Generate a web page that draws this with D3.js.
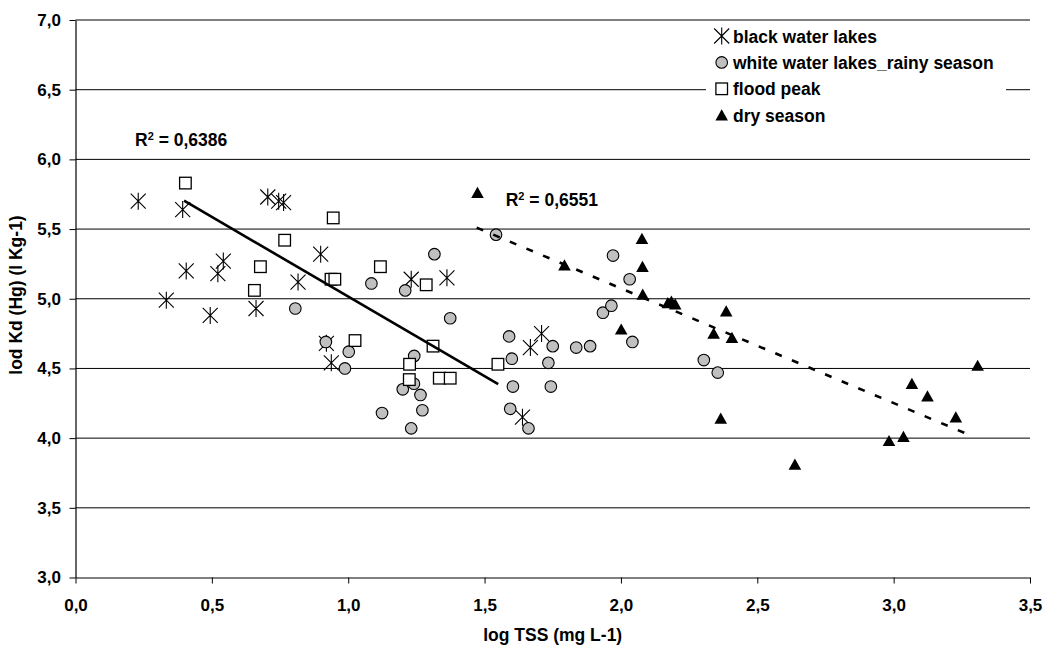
<!DOCTYPE html>
<html><head><meta charset="utf-8">
<script src="https://cdn.jsdelivr.net/npm/d3@7"></script>
<style>
body{margin:0;background:#fff}
svg text{font-family:"Liberation Sans",Arial,sans-serif;font-weight:bold;fill:#000}
</style>
</head><body>
<svg id="c" width="1044" height="646"></svg>
<script>
// ---- data (log TSS, log Kd) ----
const seriesNames = ["black water lakes","white water lakes_rainy season","flood peak","dry season"];
const blackWater = [[0.230,5.70],[0.393,5.64],[0.406,5.20],[0.333,4.99],[0.494,4.88],[0.522,5.18],[0.542,5.27],
  [0.662,4.93],[0.705,5.73],[0.745,5.70],[0.763,5.69],[0.816,5.12],[0.899,5.32],[0.920,4.68],[0.938,4.54],
  [1.231,5.14],[1.362,5.15],[1.709,4.75],[1.668,4.65],[1.639,4.15]];
const whiteWaterRainy = [[0.806,4.93],[0.918,4.69],[1.002,4.62],[0.988,4.50],[1.085,5.11],[1.209,5.06],[1.316,5.32],
  [1.374,4.86],[1.242,4.59],[1.241,4.39],[1.200,4.35],[1.265,4.31],[1.124,4.18],[1.272,4.20],[1.231,4.07],
  [1.542,5.46],[1.590,4.73],[1.600,4.57],[1.604,4.37],[1.594,4.21],[1.661,4.07],[1.750,4.66],[1.734,4.54],
  [1.743,4.37],[1.836,4.65],[1.887,4.66],[1.934,4.90],[1.965,4.95],[1.971,5.31],[2.032,5.14],[2.042,4.69],
  [2.304,4.56],[2.355,4.47]];
const floodPeak = [[0.403,5.83],[0.767,5.42],[0.678,5.23],[0.656,5.06],[0.945,5.58],[0.937,5.14],[0.951,5.14],
  [1.025,4.70],[1.118,5.23],[1.286,5.10],[1.311,4.66],[1.225,4.53],[1.224,4.42],[1.334,4.43],[1.374,4.43],[1.549,4.53]];
const drySeason = [[1.474,5.76],[1.793,5.24],[2.077,5.43],[2.079,5.23],[2.080,5.03],[2.001,4.78],[2.172,4.97],
  [2.185,4.98],[2.199,4.96],[2.386,4.91],[2.340,4.75],[2.407,4.72],[2.366,4.14],[2.638,3.81],[2.983,3.98],
  [3.036,4.01],[3.067,4.39],[3.124,4.30],[3.228,4.15],[3.308,4.52]];
const trendSolid = [[0.398,5.704],[1.550,4.387]];
const trendDashed = [[1.471,5.510],[3.286,4.016]];
const r2Values = ["0,6386","0,6551"];
const xTicks = [0,0.5,1,1.5,2,2.5,3,3.5];
const yTicks = [3,3.5,4,4.5,5,5.5,6,6.5,7];
const xTitle = "log TSS (mg L-1)";
const yTitle = "lod Kd (Hg) (l Kg-1)";

// ---- chart ----
const svg = d3.select("#c");
svg.append("rect").attr("width",1044).attr("height",646).attr("fill","#fff");
const x = d3.scaleLinear().domain([0,3.5]).range([75.5,1030]);
const y = d3.scaleLinear().domain([3,7]).range([577.5,20]);
const fmt = v => d3.format(".1f")(v).replace(".",",");

// gridlines
svg.append("g").selectAll("line").data(yTicks.filter(d=>d>3)).join("line")
  .attr("x1",x(0)).attr("x2",x(3.5)).attr("y1",d=>y(d)).attr("y2",d=>y(d))
  .attr("stroke","#000").attr("stroke-width",1);

// axes
const gy = svg.append("g").attr("transform",`translate(${x(0)},0)`)
  .call(d3.axisLeft(y).tickValues(yTicks).tickFormat(fmt).tickSize(6).tickPadding(8.5).tickSizeOuter(0));
const gx = svg.append("g").attr("transform",`translate(0,${y(3)})`)
  .call(d3.axisBottom(x).tickValues(xTicks).tickFormat(fmt).tickSize(6).tickSizeOuter(0));
[gy,gx].forEach(g=>{
  g.attr("font-family",null).attr("font-size",null);
  g.selectAll("path.domain").attr("stroke","#000").attr("stroke-width",1.2);
  g.selectAll(".tick line").attr("stroke","#000");
  g.selectAll(".tick text").style("font-size","17px").attr("fill","#000");
});
gx.selectAll(".tick text").attr("y",33).attr("dy",0);

// titles
svg.append("text").attr("x",552.7).attr("y",640.5).attr("text-anchor","middle")
  .style("font-size","17.5px").text(xTitle);
svg.append("text").attr("transform","translate(21.5,295) rotate(-90)").attr("text-anchor","middle")
  .style("font-size","17.5px").text(yTitle);

// marker drawers
const star = "M-7.5,-7.5L7.5,7.5M-7.5,7.5L7.5,-7.5M0,-8.5L0,8.5";
const tri = "M0,-6L6.3,5.2L-6.3,5.2Z";
function drawStar(g,px,py){g.append("path").attr("d",star).attr("transform",`translate(${px},${py})`)
  .attr("stroke","#000").attr("stroke-width",1.1).attr("fill","none");}
function drawCircle(g,px,py){g.append("circle").attr("cx",px).attr("cy",py).attr("r",5.8)
  .attr("fill","#c0c0c0").attr("stroke","#000").attr("stroke-width",1.1);}
function drawSquare(g,px,py){g.append("rect").attr("x",px-5.8).attr("y",py-5.8).attr("width",11.6).attr("height",11.6)
  .attr("fill","#fff").attr("stroke","#000").attr("stroke-width",1.3);}
function drawTri(g,px,py){g.append("path").attr("d",tri).attr("transform",`translate(${px},${py})`).attr("fill","#000");}
const drawers = [drawStar,drawCircle,drawSquare,drawTri];
const allSeries = [blackWater,whiteWaterRainy,floodPeak,drySeason];

allSeries.forEach((s,i)=>{
  const g = svg.append("g");
  s.forEach(d=>drawers[i](g,x(d[0]),y(d[1])));
});

// trend lines
const line = d3.line().x(d=>x(d[0])).y(d=>y(d[1]));
svg.append("path").datum(trendSolid).attr("d",line).attr("stroke","#000").attr("stroke-width",2.6).attr("fill","none");
svg.append("path").datum(trendDashed).attr("d",line).attr("stroke","#000").attr("stroke-width",2.6)
  .attr("stroke-dasharray","7,11").attr("fill","none");

// R² labels
function r2(px,py,val){
  const t = svg.append("text").attr("x",px).attr("y",py).style("font-size","17.5px");
  t.append("tspan").text("R");
  t.append("tspan").attr("dy",-6).style("font-size","11px").text("2");
  t.append("tspan").attr("dy",6).text(" = "+val);
}
r2(135,145.7,r2Values[0]);
r2(505.7,206,r2Values[1]);

// legend
const lg = svg.append("g");
lg.append("rect").attr("x",706).attr("y",24).attr("width",300).attr("height",108).attr("fill","#fff");
seriesNames.forEach((n,i)=>{
  const cy = 36 + i*26.4;
  drawers[i](lg,721.7,cy);
  lg.append("text").attr("x",733).attr("y",cy+6.5).style("font-size","17.5px").text(n);
});
</script>
</body></html>
